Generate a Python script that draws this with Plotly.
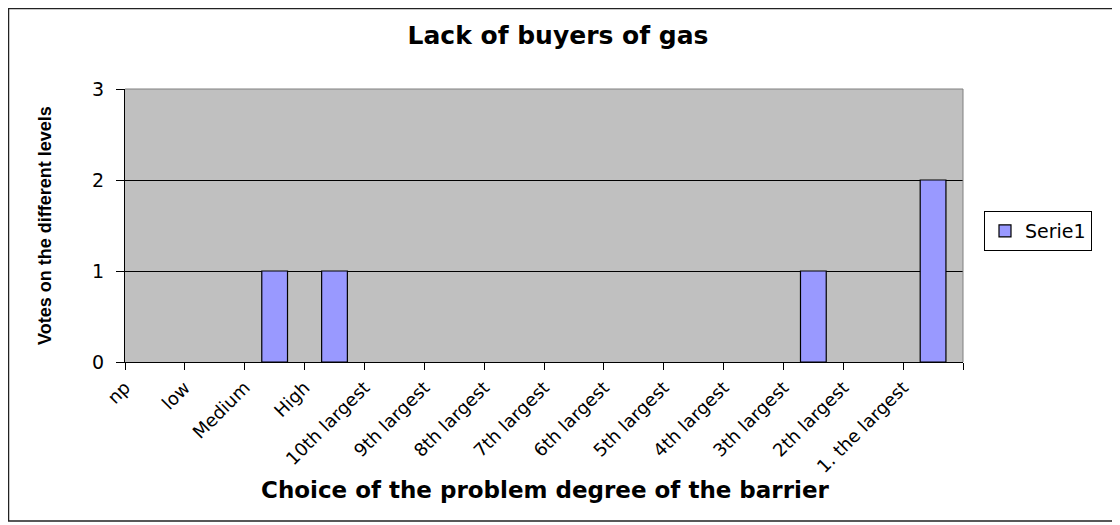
import plotly.graph_objects as go

categories = ['np', 'low', 'Medium', 'High', '10th largest', '9th largest', '8th largest',
              '7th largest', '6th largest', '5th largest', '4th largest', '3th largest',
              '2th largest', '1. the largest']
votes = [0, 0, 1, 1, 0, 0, 0, 0, 0, 0, 0, 1, 0, 2]
y_ticks = [0, 1, 2, 3]

positions = list(range(len(categories)))
# Excel-style: labels sit on the tick marks between categories
tick_pos = [p - 0.5 for p in positions] + [len(categories) - 0.5]
tick_text = categories + ['']

wide = "DejaVu Sans, sans-serif"
narrow = "Arial, Liberation Sans, sans-serif"

# page has an 8px body margin, so work in page pixels minus 8
W, H = 1112, 517
L, R, T, B = 117, 955, 81, 354
pw, ph = R - L, B - T


def px(x):
    return (x - 8 - L) / pw


def py(y):
    return (B - (y - 8)) / ph


bar_marker = dict(color='#9999FF', line=dict(color='black', width=1.2))

fig = go.Figure()
fig.add_trace(go.Bar(
    x=positions, y=votes, name='Serie1', width=0.43, showlegend=False,
    marker=dict(color='#9999FF',
                line=dict(color='black', width=[1.2 if v else 0 for v in votes])),
))
# legend entry only
fig.add_trace(go.Bar(x=[None], y=[None], name='Serie1', marker=bar_marker))

# outer chart frame
fig.add_shape(type='rect', xref='paper', yref='paper',
              x0=(0.5 - L) / pw, x1=(1107 - L) / pw,
              y0=(B - 513) / ph, y1=(B - 0.5) / ph,
              line=dict(color='#222222', width=1.5), layer='below')
# plot area top and right edges
fig.add_shape(type='line', xref='paper', yref='paper', x0=0, x1=1, y0=1, y1=1,
              line=dict(color='#808080', width=1))
fig.add_shape(type='line', xref='paper', yref='paper', x0=1, x1=1, y0=0, y1=1,
              line=dict(color='#808080', width=1))

fig.add_annotation(xref='paper', yref='paper', x=px(45), y=py(226),
                   xanchor='center', yanchor='middle',
                   text='<b>Votes on the different levels</b>', textangle=-90,
                   showarrow=False, font=dict(family=narrow, size=18, color='black'))
fig.add_annotation(xref='paper', yref='paper', x=px(545), y=py(490),
                   xanchor='center', yanchor='middle',
                   text='<b>Choice of the problem degree of the barrier</b>',
                   showarrow=False, font=dict(family=wide, size=23, color='black'))

fig.update_layout(
    width=W, height=H,
    title=dict(text='<b>Lack of buyers of gas</b>', x=(558 - 8) / W, xanchor='center',
               y=1 - (35 - 8) / H, yanchor='middle',
               font=dict(family=wide, size=25, color='black')),
    margin=dict(l=L, r=W - R, t=T, b=H - B, autoexpand=False),
    paper_bgcolor='white', plot_bgcolor='#C0C0C0',
    barmode='overlay',
    xaxis=dict(range=[-0.5, len(categories) - 0.5], tickmode='array',
               tickvals=tick_pos, ticktext=tick_text, tickangle=-45,
               ticks='outside', ticklen=7, tickcolor='black',
               showline=True, linecolor='black', linewidth=1,
               showgrid=False, zeroline=False,
               tickfont=dict(family=wide, size=18, color='black')),
    yaxis=dict(range=[0, 3], tickmode='array', tickvals=y_ticks,
               ticks='outside', ticklen=8, tickcolor='black', ticklabelstandoff=8,
               showline=True, linecolor='black', linewidth=1,
               showgrid=True, gridcolor='black', gridwidth=1, zeroline=False,
               tickfont=dict(family=wide, size=19, color='black')),
    legend=dict(x=px(984), y=py(211), xanchor='left', yanchor='top',
                bordercolor='black', borderwidth=1, bgcolor='white',
                itemwidth=30, tracegroupgap=0,
                font=dict(family=wide, size=19, color='black')),
    showlegend=True,
)

fig.write_html("out.html")
